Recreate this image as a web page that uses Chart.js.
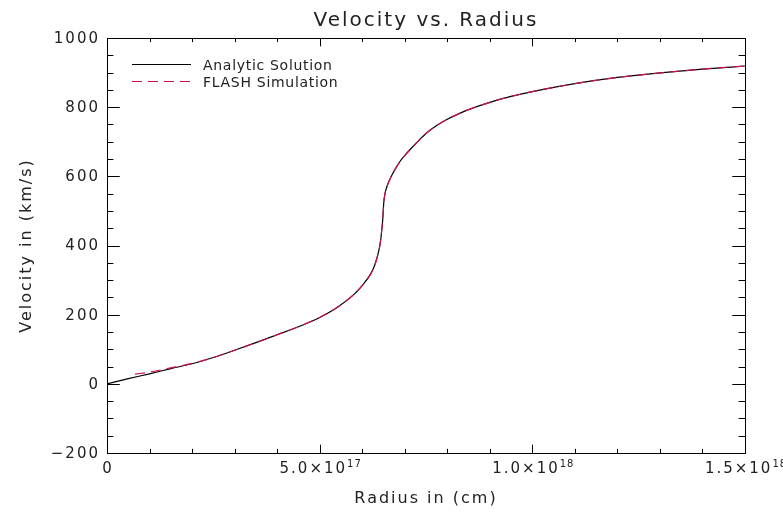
<!DOCTYPE html>
<html lang="en">
<head>
  <meta charset="UTF-8" />
  <title>Velocity vs. Radius</title>

  <!-- Chart.js for plotting -->
  <script src="https://cdn.jsdelivr.net/npm/chart.js"></script>

  <style>
    /* Plain white page, canvas fixed at plot size */
    body {
      margin: 0;
      background: #fff;
    }
    canvas {
      display: block;
    }
  </style>
</head>
<body>
  <canvas id="velocityChart" width="783" height="513"></canvas>

  <script>
    // Analytic solution: radius (cm) and velocity (km/s)
    const radius = [
      0, 0.5e17, 1.0e17, 1.5e17, 2.0e17, 2.5e17, 3.0e17, 3.5e17, 4.0e17, 4.5e17,
      5.0e17, 5.4e17, 5.8e17, 6.0e17, 6.2e17, 6.3e17, 6.4e17, 6.43e17, 6.46e17, 6.48e17,
      6.495e17, 6.51e17, 6.54e17, 6.58e17, 6.62e17, 6.66e17, 6.7e17, 6.8e17, 6.9e17, 7.0e17,
      7.1e17, 7.2e17, 7.35e17, 7.5e17, 7.75e17, 8.0e17, 8.25e17, 8.5e17, 9.0e17, 9.5e17,
      1.0e18, 1.1e18, 1.2e18, 1.3e18, 1.4e18, 1.5e18
    ];
    const velocity = [
      0, 15, 29, 44, 58, 76, 97, 119, 142, 165,
      192, 220, 258, 284, 318, 345, 390, 412, 445, 470,
      500, 528, 552, 570, 583, 594, 604, 626, 645, 660,
      674, 687, 706, 724, 747, 765, 780, 793, 814, 831,
      845, 868, 886, 899, 910, 919
    ];

    // FLASH simulation output
    const flashRadius = [
      0.66e17, 1.0e17, 1.5e17, 2.0e17, 2.5e17, 3.0e17, 3.5e17, 4.0e17, 4.5e17,
      5.0e17, 5.4e17, 5.8e17, 6.0e17, 6.2e17, 6.3e17, 6.4e17, 6.43e17, 6.46e17, 6.48e17,
      6.495e17, 6.51e17, 6.54e17, 6.58e17, 6.62e17, 6.66e17, 6.7e17, 6.8e17, 6.9e17, 7.0e17,
      7.1e17, 7.2e17, 7.35e17, 7.5e17, 7.75e17, 8.0e17, 8.25e17, 8.5e17, 9.0e17, 9.5e17,
      1.0e18, 1.1e18, 1.2e18, 1.3e18, 1.4e18, 1.5e18
    ];
    const flashVelocity = [
      28, 34, 46, 59, 76, 97, 119, 142, 165,
      192, 220, 258, 284, 318, 345, 390, 412, 445, 470,
      500, 528, 552, 570, 583, 594, 604, 626, 645, 660,
      674, 687, 706, 724, 747, 765, 780, 793, 814, 831,
      845, 868, 886, 899, 910, 919
    ];

    const seriesNames = ["Analytic Solution", "FLASH Simulation"];
    const seriesColors = ["#000000", "#cc1155"];

    // Axis ticks
    const xMajorTicks = [0, 5e17, 1e18, 1.5e18];
    const xTickBase = ["0", "5.0\u00d710", "1.0\u00d710", "1.5\u00d710"];
    const xTickExp = ["", "17", "18", "18"];
    const xMinorStep = 1e17;
    const yMajorTicks = [-200, 0, 200, 400, 600, 800, 1000];
    const yMinorStep = 50;

    const FONT = "'DejaVu Sans', sans-serif";
    const INK = "#222";

    // Draws the IDL-style frame: box, inward ticks on all sides, labels, titles, legend
    const framePlugin = {
      id: "frame",
      afterDatasetsDraw(chart) {
        const ctx = chart.ctx;
        const area = chart.chartArea;
        const xs = chart.scales.x;
        const ys = chart.scales.y;
        const h = area.bottom - area.top;
        const w = area.right - area.left;
        const xMaj = 0.02 * h, xMin = xMaj / 2;
        const yMaj = 0.02 * w, yMin = yMaj / 2;

        ctx.save();
        ctx.strokeStyle = "#000";
        ctx.lineWidth = 1;

        // box
        ctx.strokeRect(area.left + 0.5, area.top + 0.5, w, h);

        // x ticks, top and bottom
        ctx.beginPath();
        for (let v = xs.min; v <= xs.max + 1; v += xMinorStep) {
          const px = Math.round(xs.getPixelForValue(v)) + 0.5;
          const major = xMajorTicks.some(t => Math.abs(t - v) < xMinorStep / 10);
          const len = major ? xMaj : xMin;
          ctx.moveTo(px, area.bottom);
          ctx.lineTo(px, area.bottom - len);
          ctx.moveTo(px, area.top);
          ctx.lineTo(px, area.top + len);
        }
        // y ticks, left and right
        for (let v = ys.min; v <= ys.max; v += yMinorStep) {
          const py = Math.round(ys.getPixelForValue(v)) + 0.5;
          const major = yMajorTicks.includes(v);
          const len = major ? yMaj : yMin;
          ctx.moveTo(area.left, py);
          ctx.lineTo(area.left + len, py);
          ctx.moveTo(area.right, py);
          ctx.lineTo(area.right - len, py);
        }
        ctx.stroke();

        ctx.fillStyle = INK;

        // y tick labels
        ctx.font = "15px " + FONT;
        ctx.letterSpacing = "2px";
        ctx.textAlign = "right";
        ctx.textBaseline = "middle";
        yMajorTicks.forEach(v => {
          const label = v < 0 ? "\u2212" + Math.abs(v) : String(v);
          ctx.fillText(label, area.left - 7, ys.getPixelForValue(v) + 1);
        });

        // x tick labels with superscript exponent
        ctx.textAlign = "left";
        ctx.textBaseline = "alphabetic";
        xMajorTicks.forEach((v, i) => {
          ctx.font = "15px " + FONT;
          ctx.letterSpacing = "2px";
          const bw = ctx.measureText(xTickBase[i]).width;
          ctx.font = "10px " + FONT;
          ctx.letterSpacing = "1px";
          const ew = xTickExp[i] ? ctx.measureText(xTickExp[i]).width : 0;
          const x0 = xs.getPixelForValue(v) - (bw + ew) / 2 + 1;
          ctx.font = "15px " + FONT;
          ctx.letterSpacing = "2px";
          ctx.fillText(xTickBase[i], x0, area.bottom + 20);
          if (xTickExp[i]) {
            ctx.font = "10px " + FONT;
            ctx.letterSpacing = "1px";
            ctx.fillText(xTickExp[i], x0 + bw, area.bottom + 14);
          }
        });

        // axis titles
        ctx.font = "16px " + FONT;
        ctx.letterSpacing = "2px";
        ctx.textAlign = "center";
        ctx.fillText("Radius in (cm)", (area.left + area.right) / 2, area.bottom + 50);
        ctx.save();
        ctx.translate(31, (area.top + area.bottom) / 2);
        ctx.rotate(-Math.PI / 2);
        ctx.fillText("Velocity in (km/s)", 0, 0);
        ctx.restore();

        // title
        ctx.font = "20px " + FONT;
        ctx.letterSpacing = "2px";
        ctx.fillText("Velocity vs. Radius", (area.left + area.right) / 2, 26);

        // legend inside the plot
        ctx.font = "14px " + FONT;
        ctx.letterSpacing = "0.7px";
        ctx.textAlign = "left";
        seriesNames.forEach((name, i) => {
          const ly = 64 + i * 17 + 0.5;
          ctx.strokeStyle = seriesColors[i];
          ctx.lineWidth = 1.2;
          ctx.setLineDash(i === 1 ? [10, 6] : []);
          ctx.beginPath();
          ctx.moveTo(132, ly);
          ctx.lineTo(191, ly);
          ctx.stroke();
          ctx.fillText(name, 203, ly + 5);
        });
        ctx.setLineDash([]);
        ctx.restore();
      }
    };

    const ctx = document.getElementById("velocityChart").getContext("2d");

    new Chart(ctx, {
      type: "line",
      data: {
        datasets: [
          {
            label: seriesNames[0],
            data: radius.map((r, i) => ({ x: r, y: velocity[i] })),
            borderColor: seriesColors[0],
            borderWidth: 1.2,
            pointRadius: 0,
            cubicInterpolationMode: "monotone",
            order: 1
          },
          {
            label: seriesNames[1],
            data: flashRadius.map((r, i) => ({ x: r, y: flashVelocity[i] })),
            borderColor: seriesColors[1],
            borderWidth: 1.2,
            borderDash: [10, 6],
            pointRadius: 0,
            cubicInterpolationMode: "monotone",
            order: 0
          }
        ]
      },
      options: {
        responsive: false,
        animation: false,
        devicePixelRatio: 1,
        layout: {
          padding: { left: 107, right: 38, top: 38, bottom: 60 }
        },
        plugins: {
          legend: { display: false },
          title: { display: false },
          tooltip: { enabled: false }
        },
        scales: {
          x: { type: "linear", min: 0, max: 1.5e18, display: false },
          y: { type: "linear", min: -200, max: 1000, display: false }
        }
      },
      plugins: [framePlugin]
    });
  </script>
</body>
</html>
